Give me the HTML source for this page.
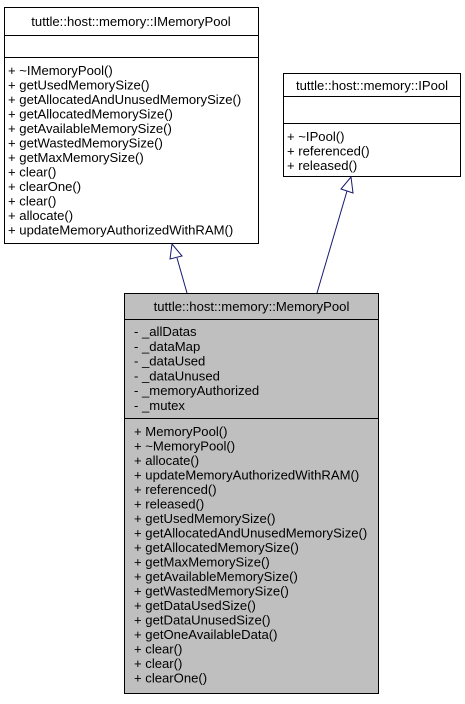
<!DOCTYPE html>
<html><head><meta charset="utf-8"><style>
html,body{margin:0;padding:0;background:#fff;}
svg text{font-family:"Liberation Sans",Helvetica,sans-serif;font-size:13.1px;fill:#000;}
</style></head><body>
<svg width="465" height="699" viewBox="0 0 465 699" xmlns="http://www.w3.org/2000/svg">
<!-- IMemoryPool -->
<rect x="4.5" y="7.5" width="254" height="236" fill="#fff" stroke="#000"/>
<line x1="4.5" y1="35.5" x2="258.5" y2="35.5" stroke="#000"/>
<line x1="4.5" y1="57.5" x2="258.5" y2="57.5" stroke="#000"/>
<text x="131" y="26" text-anchor="middle">tuttle::host::memory::IMemoryPool</text>
<g>
<text x="8" y="75">+ ~IMemoryPool()</text>
<text x="8" y="89.5">+ getUsedMemorySize()</text>
<text x="8" y="104">+ getAllocatedAndUnusedMemorySize()</text>
<text x="8" y="118.5">+ getAllocatedMemorySize()</text>
<text x="8" y="133">+ getAvailableMemorySize()</text>
<text x="8" y="147.5">+ getWastedMemorySize()</text>
<text x="8" y="162">+ getMaxMemorySize()</text>
<text x="8" y="176.5">+ clear()</text>
<text x="8" y="191">+ clearOne()</text>
<text x="8" y="205.5">+ clear()</text>
<text x="8" y="220">+ allocate()</text>
<text x="8" y="234.5">+ updateMemoryAuthorizedWithRAM()</text>
</g>
<!-- IPool -->
<rect x="283.5" y="73.5" width="177" height="103" fill="#fff" stroke="#000"/>
<line x1="283.5" y1="96.5" x2="460.5" y2="96.5" stroke="#000"/>
<line x1="283.5" y1="123.5" x2="460.5" y2="123.5" stroke="#000"/>
<text x="372" y="90" text-anchor="middle">tuttle::host::memory::IPool</text>
<text x="287" y="141">+ ~IPool()</text>
<text x="287" y="155.5">+ referenced()</text>
<text x="287" y="170">+ released()</text>
<!-- MemoryPool -->
<rect x="124.5" y="293.5" width="254" height="400" fill="#bfbfbf" stroke="#000"/>
<line x1="124.5" y1="319.5" x2="378.5" y2="319.5" stroke="#000"/>
<line x1="124.5" y1="418.5" x2="378.5" y2="418.5" stroke="#000"/>
<text x="251.5" y="311" text-anchor="middle">tuttle::host::memory::MemoryPool</text>
<text x="134" y="336">- _allDatas</text>
<text x="134" y="350.8">- _dataMap</text>
<text x="134" y="365.6">- _dataUsed</text>
<text x="134" y="380.4">- _dataUnused</text>
<text x="134" y="395.2">- _memoryAuthorized</text>
<text x="134" y="410">- _mutex</text>
<text x="134" y="436">+ MemoryPool()</text>
<text x="134" y="450.5">+ ~MemoryPool()</text>
<text x="134" y="465">+ allocate()</text>
<text x="134" y="479.5">+ updateMemoryAuthorizedWithRAM()</text>
<text x="134" y="494">+ referenced()</text>
<text x="134" y="508.5">+ released()</text>
<text x="134" y="523">+ getUsedMemorySize()</text>
<text x="134" y="537.5">+ getAllocatedAndUnusedMemorySize()</text>
<text x="134" y="552">+ getAllocatedMemorySize()</text>
<text x="134" y="566.5">+ getMaxMemorySize()</text>
<text x="134" y="581">+ getAvailableMemorySize()</text>
<text x="134" y="595.5">+ getWastedMemorySize()</text>
<text x="134" y="610">+ getDataUsedSize()</text>
<text x="134" y="624.5">+ getDataUnusedSize()</text>
<text x="134" y="639">+ getOneAvailableData()</text>
<text x="134" y="653.5">+ clear()</text>
<text x="134" y="668">+ clear()</text>
<text x="134" y="682.5">+ clearOne()</text>
<!-- arrows -->
<line x1="187" y1="293" x2="177" y2="258" stroke="#191970"/>
<polygon points="172,244 170,259 182,256" fill="#fff" stroke="#191970"/>
<line x1="317" y1="293" x2="347" y2="191" stroke="#191970"/>
<polygon points="351,177 341,189 353,193" fill="#fff" stroke="#191970"/>
</svg>
</body></html>
